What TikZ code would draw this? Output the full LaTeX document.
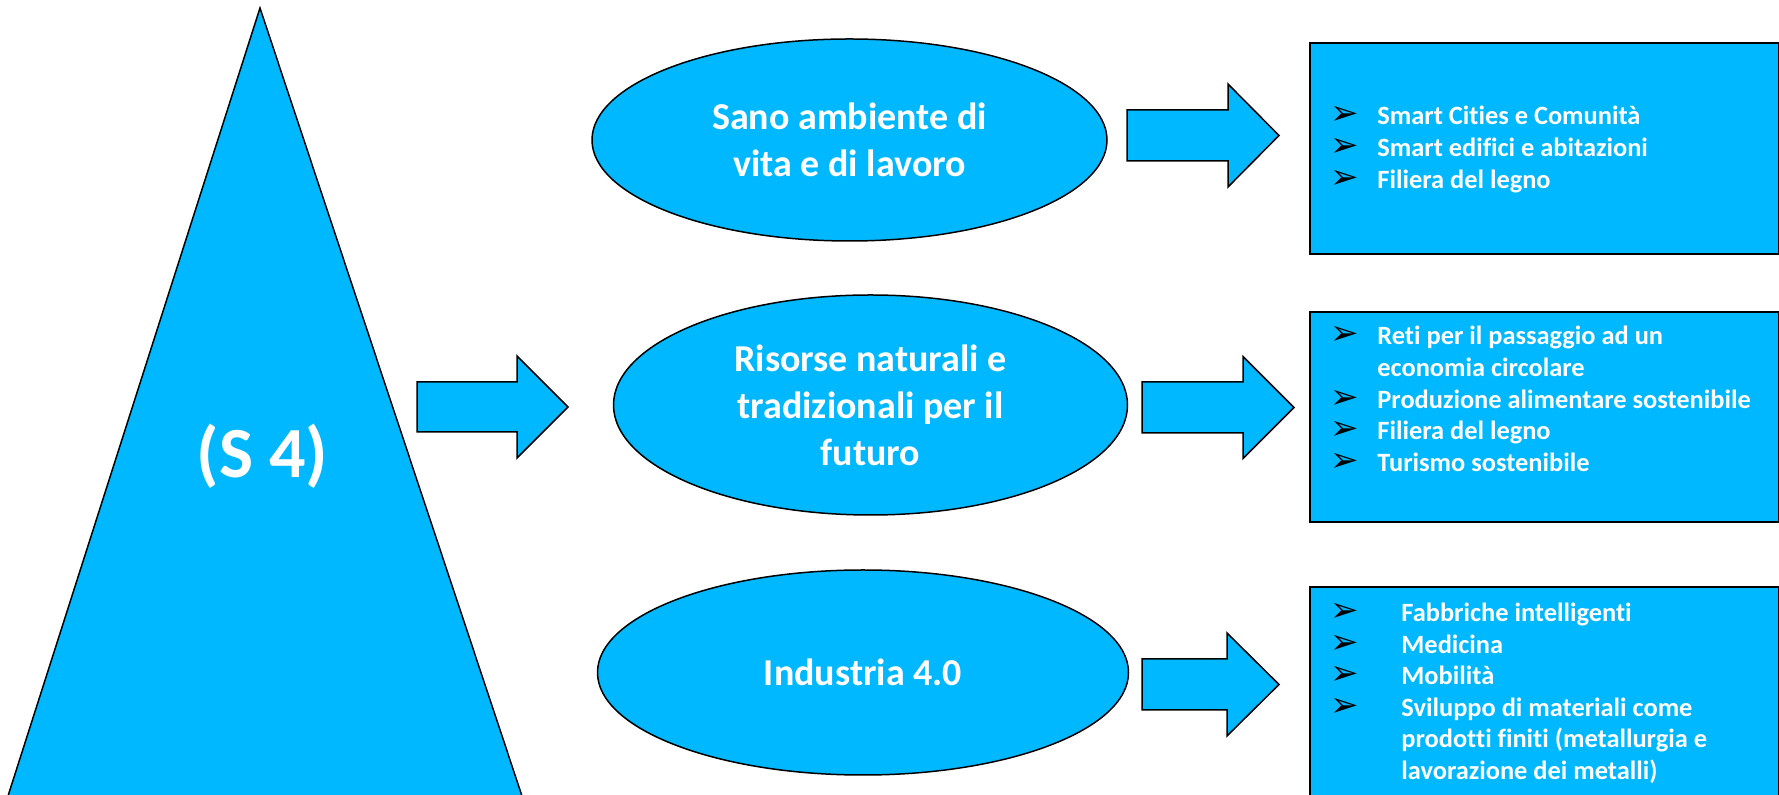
\documentclass[tikz,border=0pt]{standalone}
\usepackage{fontspec}
\setmainfont{Carlito}[Ligatures=NoCommon]
\newfontfamily\dejavu{DejaVu Sans}
\usetikzlibrary{shapes.geometric}
\definecolor{skyfill}{RGB}{0,184,255}
\tikzset{
  shapefill/.style={fill=skyfill, draw=black, line width=0.75pt},
  ell/.style={shapefill, ellipse, inner sep=0pt, text=white,
    font=\fontsize{19}{23.5}\selectfont\bfseries, align=center},
  listbox/.style={fill=skyfill, draw=black, line width=1pt, rectangle,
    inner sep=0pt, anchor=north west},
  listtxt/.style={inner sep=0pt, anchor=base west, text=white,
    font=\fontsize{13.2}{15.8}\selectfont\bfseries},
  blockarr/.style={shapefill, line join=miter}
}
\newcommand{\blt}[1]{\makebox[#1][l]{\smash{\dejavu\fontsize{17}{17}\selectfont\textcolor{black}{➢}}}}
% x0, xhead, xtip, ycenter, half body, half head
\newcommand{\blockarrow}[6]{%
  \draw[blockarr] (#1,#4-#5) -- (#2,#4-#5) -- (#2,#4-#6) -- (#3,#4)
    -- (#2,#4+#6) -- (#2,#4+#5) -- (#1,#4+#5) -- cycle;}
\begin{document}
\begin{tikzpicture}[x=0.5pt,y=-0.5pt]
\useasboundingbox (0,0) rectangle (1779,795);
\clip (0,0) rectangle (1779,795);
% triangle
\coordinate (apex) at (260,8);
\coordinate (bl) at (8,796);
\coordinate (br) at (522,796);
\draw[shapefill] (apex) -- (br) -- (bl) -- cycle;
\node[anchor=base, inner sep=0pt, text=white, font=\fontsize{36}{36}\selectfont\bfseries] (s4) at (262.5,478) {(S 4)};
% ellipses
\node[ell, minimum width=257.5pt, minimum height=101pt] (e1) at (849.5,140) {Sano ambiente di\\vita e di lavoro};
\node[ell, minimum width=257pt, minimum height=110pt] (e2) at (870.5,405) {Risorse naturali e\\tradizionali per il\\futuro};
\node[ell, minimum width=265.5pt, minimum height=102.5pt] (e3) at (863,672.5) {Industria 4.0};
% boxes
\node[listbox, minimum width=234.5pt, minimum height=105.5pt] (box1) at (1309,42) {};
\node[listbox, minimum width=234.5pt, minimum height=105pt] (box2) at (1309,311) {};
\node[listbox, minimum width=234.5pt, minimum height=117pt] (box3) at (1309,586) {};
% block arrows
\blockarrow{417}{517}{568}{407}{25}{51}
\blockarrow{1127}{1228}{1279}{135.5}{25.5}{51.5}
\blockarrow{1142}{1243}{1294}{407.5}{25.5}{51}
\blockarrow{1142}{1227}{1279}{684.5}{25.5}{51.5}
% lists
\node[listtxt] (t1) at (1330,125) {\parbox[t]{230pt}{\blt{23.5pt}Smart Cities e Comunità\\
\blt{23.5pt}Smart edifici e abitazioni\\
\blt{23.5pt}Filiera del legno}};
\node[listtxt] (t2) at (1330,345) {\parbox[t]{230pt}{\blt{23.5pt}Reti per il passaggio ad un\\
\hspace*{23.5pt}economia circolare\\
\blt{23.5pt}Produzione alimentare sostenibile\\
\blt{23.5pt}Filiera del legno\\
\blt{23.5pt}Turismo sostenibile}};
\node[listtxt] (t3) at (1330,621.5) {\parbox[t]{230pt}{\blt{35.5pt}Fabbriche intelligenti\\
\blt{35.5pt}Medicina\\
\blt{35.5pt}Mobilità\\
\blt{35.5pt}Sviluppo di materiali come\\
\hspace*{35.5pt}prodotti finiti (metallurgia e\\
\hspace*{35.5pt}lavorazione dei metalli)}};
\end{tikzpicture}
\end{document}
